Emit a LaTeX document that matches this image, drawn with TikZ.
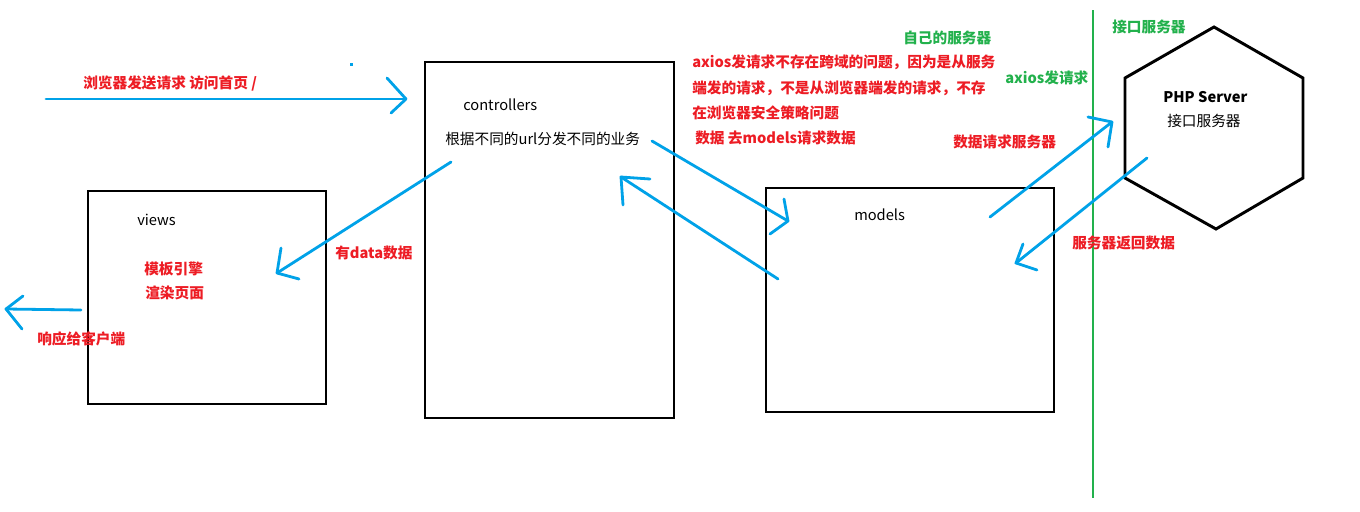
\documentclass[tikz,border=0pt]{standalone}
\usepackage{fontspec}
\setmainfont{Noto Sans CJK SC}
\begin{document}
\begin{tikzpicture}[x=0.75pt,y=-0.75pt,
  box/.style={draw=black,line width=2.2pt},
  flow/.style={draw=cblue,line width=2.1pt,line cap=round,line join=round},
  redtxt/.style={text=cred,font=\fontsize{11pt}{12pt}\selectfont\bfseries,anchor=west,inner sep=0pt},
  greentxt/.style={text=cgreen,font=\fontsize{11pt}{12pt}\selectfont\bfseries,anchor=west,inner sep=0pt},
  blacktxt/.style={text=black,font=\fontsize{11pt}{12pt}\selectfont,anchor=west,inner sep=0pt}]
\definecolor{cblue}{HTML}{00A2E8}
\definecolor{cred}{HTML}{ED1C24}
\definecolor{cgreen}{HTML}{22B14C}
\useasboundingbox[fill=white] (0,0) rectangle (1360,511);

% boxes
\draw[box] (88,191) rectangle (326,404);
\draw[box] (425,62) rectangle (674,418);
\draw[box] (766,188) rectangle (1054,412);
\draw[box] (1214,27) -- (1303,78) -- (1303,178) -- (1216,229) -- (1125,178) -- (1125,78) -- cycle;

% green divider
\draw[draw=cgreen,line width=2.2pt] (1093,10) -- (1093,498);

% texts
\node[redtxt] (t1) at (83,83) {浏览器发送请求 访问首页 /};
\node[blacktxt] (c1) at (463,105) {controllers};
\node[blacktxt] (c2) at (445,139) {根据不同的url分发不同的业务};
\node[blacktxt] (v1) at (137,220) {views};
\node[redtxt] (v2) at (144,269) {模板引擎};
\node[redtxt] (v3) at (145,293) {渲染页面};
\node[redtxt] (r1) at (37,339) {响应给客户端};
\node[redtxt] (d1) at (335,253) {有data数据};
\node[blacktxt] (m1) at (854,215) {models};
\node[redtxt] (a1) at (692,62) {axios发请求不存在跨域的问题，因为是从服务};
\node[redtxt] (a2) at (692,88) {端发的请求，不是从浏览器端发的请求，不存};
\node[redtxt] (a3) at (692,113) {在浏览器安全策略问题};
\node[redtxt] (a4) at (695,138) {数据 去models请求数据};
\node[greentxt] (g1) at (903,38) {自己的服务器};
\node[greentxt] (g2) at (1005,78) {axios发请求};
\node[greentxt] (g3) at (1112,27) {接口服务器};
\node[redtxt] (q1) at (953,142) {数据请求服务器};
\node[redtxt] (q2) at (1072,243) {服务器返回数据};
\node[blacktxt,font=\fontsize{11pt}{12pt}\selectfont\bfseries] (p1) at (1163,97) {PHP Server};
\node[blacktxt] (p2) at (1167,121) {接口服务器};

% small dot
\fill[cblue] (349.5,62.5) rectangle (352.5,65.5);

% arrow 1: browser -> controllers
\coordinate (s1) at (46,99); \coordinate (e1) at (406,99);
\draw[flow] (s1) -- (e1);
\draw[flow] (387,78) -- (e1) -- (391,113);

% arrow 2: controllers -> views
\coordinate (s2) at (451,162); \coordinate (e2) at (277,273);
\draw[flow] (s2) -- (e2);
\draw[flow] (281,248) -- (e2) -- (299,279);

% arrow 3: views -> client
\coordinate (s3) at (81,310); \coordinate (e3) at (6,309);
\draw[flow] (s3) -- (e3);
\draw[flow] (23,296) -- (e3) -- (22,329);

% arrow 4: controllers -> models
\coordinate (s4) at (652,141); \coordinate (e4) at (788,221);
\draw[flow] (s4) -- (e4);
\draw[flow] (784,199) -- (e4) -- (770,234);

% arrow 5: models -> controllers
\coordinate (s5) at (778,279); \coordinate (e5) at (621,177);
\draw[flow] (s5) -- (e5);
\draw[flow] (650,179) -- (e5) -- (623,205);

% arrow 6: models -> PHP server
\coordinate (s6) at (990,217); \coordinate (e6) at (1112,122);
\draw[flow] (s6) -- (e6);
\draw[flow] (1088,117) -- (e6) -- (1108,147);

% arrow 7: PHP server -> models
\coordinate (s7) at (1147,158); \coordinate (e7) at (1016,263);
\draw[flow] (s7) -- (e7);
\draw[flow] (1023,244) -- (e7) -- (1037,270);
\end{tikzpicture}
\end{document}
